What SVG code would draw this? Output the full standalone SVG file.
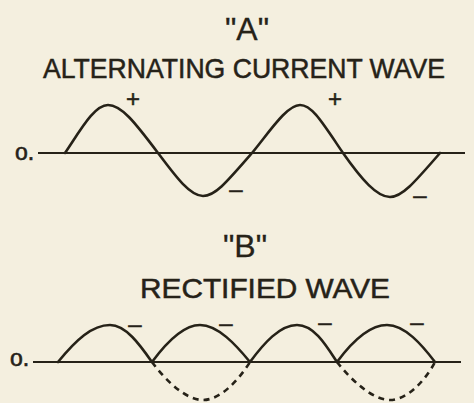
<svg xmlns="http://www.w3.org/2000/svg" width="474" height="403" viewBox="0 0 474 403">
<style>
.ink{fill:#262218;stroke:#262218;stroke-width:0.5;font-family:"Liberation Sans",Arial,sans-serif}
.title{font-size:28px}
.label{font-size:32px;stroke-width:0.3}
.sign{font-size:24px;text-anchor:middle}
.zero{font-size:23px;stroke-width:0.6}
.axis{stroke:#262218;stroke-width:2.2;fill:none}
.wave{stroke:#262218;stroke-width:2.6;fill:none;stroke-linejoin:round;stroke-linecap:round}
.dash{stroke:#262218;stroke-width:2.6;fill:none;stroke-dasharray:6 5}
</style>
<rect width="474" height="403" fill="#f4efdf"/>
<g id="headingA">
<text class="ink label" x="247" y="40" text-anchor="middle">"A"</text>
<text class="ink title" x="43" y="78" textLength="402" lengthAdjust="spacingAndGlyphs">ALTERNATING CURRENT WAVE</text>
</g>
<g id="waveA">
<text class="ink zero" x="15" y="160">o.</text>
<line class="axis" x1="38" y1="153" x2="465" y2="153"/>
<path class="wave" d="M65,153 C80,131 94,105 108,105 C121,105 134,121 158,153 C176,177 190,196 203,196 C215,196 226,183 252,153 C270,131 287,105 300,105 C312,105 322,122 343,153 C362,180 377,197 390,197 C402,197 414,183 440,153"/>
<text class="ink sign" x="133" y="107">+</text>
<text class="ink sign" x="335" y="107">+</text>
<text class="ink sign" x="236" y="197">–</text>
<text class="ink sign" x="420" y="203">–</text>
</g>
<g id="headingB">
<text class="ink label" x="245" y="257" text-anchor="middle">"B"</text>
<text class="ink title" x="140" y="298" textLength="250" lengthAdjust="spacingAndGlyphs">RECTIFIED WAVE</text>
</g>
<g id="waveB">
<text class="ink zero" x="10" y="366">o.</text>
<line class="axis" x1="33" y1="362" x2="461" y2="362"/>
<path class="wave" d="M58,362 C76,340 92,325 110,325 C126,325 140,345 152,362 C166,343 184,325 200,325 C218,325 236,345 250,362 C264,343 280,325 297,325 C314,325 326,345 337,362 C351,343 369,325 387,325 C405,325 422,345 435,362"/>
<path class="dash" d="M152,362 C166,381 186,400 203,400 C220,400 238,381 250,362 M337,362 C352,381 373,400 390,400 C407,400 425,381 435,362"/>
<text class="ink sign" x="135" y="332">–</text>
<text class="ink sign" x="226" y="331">–</text>
<text class="ink sign" x="325" y="330">–</text>
<text class="ink sign" x="417" y="330">–</text>
</g>
</svg>
